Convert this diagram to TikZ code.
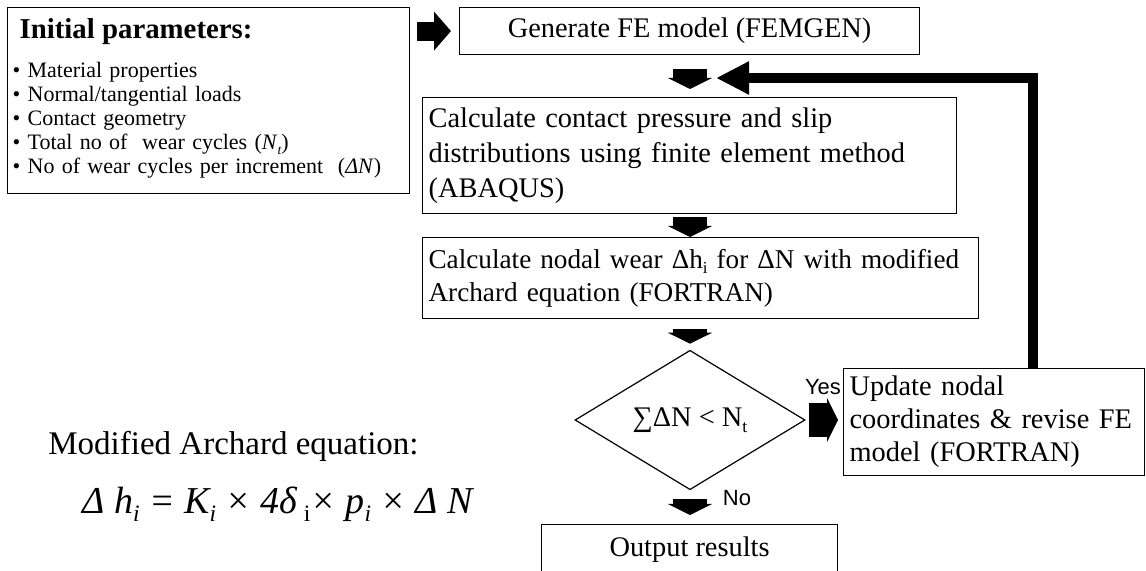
\documentclass[tikz,border=0pt]{standalone}
\usepackage{graphicx}
\usepackage{fontspec}
\setmainfont{Liberation Serif}
\newfontfamily\labelfont{Liberation Sans}
\usetikzlibrary{arrows.meta,shapes.geometric}

\newcommand{\lowsub}[1]{\raisebox{-0.45ex}{\scalebox{0.62}{#1}}}

\begin{document}
\begin{tikzpicture}[x=0.5pt, y=-0.5pt,
    flowbox/.style={draw, line width=0.6pt, inner xsep=3pt, inner ysep=2pt,
      font=\fontsize{14.2}{16.5}\selectfont},
    decision/.style={draw, diamond, line width=0.6pt, inner sep=0pt,
      font=\fontsize{14.2}{16.5}\selectfont},
    blockarrow/.style={line width=17pt, -{Triangle[length=5.5pt,width=22pt]}},
    sidearrow/.style={line width=9.5pt, -{Triangle[length=8.5pt,width=19pt]}},
    returnline/.style={line width=5pt, line join=miter, -{Triangle[length=16.5pt,width=15.5pt]}},
    answer/.style={font=\labelfont\fontsize{11}{13}\selectfont, inner sep=0pt}]
  \useasboundingbox (0,0) rectangle (1146,571);
  % ---------- input data ----------
  \node[draw, line width=0.6pt, anchor=north west, text width=196pt, inner xsep=2.5pt,
    inner ysep=5.5pt, align=left, font=\fontsize{11}{12}\selectfont] (init) at (7,7)
    {\hspace*{3.5pt}{\fontsize{14.4}{15}\selectfont\bfseries Initial parameters:}\\[7.5pt]
     • Material properties\\
     • Normal/tangential loads\\
     • Contact geometry\\
     • Total no of \ wear cycles (\textit{N}\lowsub{\itshape t})\\
     • No of wear cycles per increment \ (\textit{ΔN})\rule[-4.5pt]{0pt}{4.5pt}};
  % ---------- main column ----------
  \node[flowbox, anchor=north west, minimum width=230pt, minimum height=23.5pt] (gen) at (459,7)
    {Generate FE model (FEMGEN)};
  \node[flowbox, anchor=north west, text width=261pt, minimum height=58pt, align=left,
    font=\fontsize{14.2}{17.5}\selectfont] (calc) at (422,97)
    {Calculate contact pressure and slip\\ distributions using finite element method\\ (ABAQUS)};
  \node[flowbox, anchor=north west, text width=272pt, minimum height=40.5pt, align=left,
    font=\fontsize{13.6}{16.5}\selectfont] (wear) at (422,237)
    {\mbox{Calculate nodal wear Δh\lowsub{i} for ΔN with modified}\\ Archard equation (FORTRAN)};
  \node[decision, minimum width=115pt, minimum height=65pt] (test) at (690,420)
    {∑ΔN < N\lowsub{t}};
  \node[flowbox, anchor=north west, text width=144.5pt, minimum height=53.5pt, align=left] (upd) at (843,368)
    {Update nodal\\ coordinates \& revise FE\\ model (FORTRAN)};
  \node[flowbox, anchor=north west, minimum width=148pt, minimum height=25pt] (out) at (541,524)
    {Output results};
  % ---------- block arrows ----------
  \draw[sidearrow, shorten <=3.5pt, shorten >=4pt] (init.east |- gen.west) -- (gen.west);
  \draw[blockarrow, shorten <=7pt, shorten >=4pt] (test |- gen.south) -- (test |- calc.north);
  \draw[blockarrow, shorten <=1.5pt] (test |- calc.south) -- (test |- wear.north);
  \draw[blockarrow, shorten <=5pt, shorten >=3pt] (test |- wear.south) -- (test.north);
  \draw[blockarrow, shorten <=4.5pt, shorten >=4.5pt] (test.south) -- (test |- out.north);
  \draw[blockarrow, shorten <=1.5pt, shorten >=2.5pt] (test.east) -- (upd.west |- test.east);
  \node[answer] (yes) at (823,387) {Yes};
  \node[answer] (no) at (737,498) {No};
  % ---------- loop back to the FE analysis ----------
  \coordinate (back) at (1033,78);
  \coordinate (tip) at (716,78);
  \draw[returnline] (upd.north -| back) |- (tip);
  % ---------- wear law ----------
  \node[anchor=base west, inner sep=0pt, font=\fontsize{16.5}{18}\selectfont] (lawname) at (48,455)
    {Modified Archard equation:};
  \node[anchor=base west, inner sep=0pt, font=\fontsize{19}{21}\selectfont] (law) at (82,514)
    {\itshape Δ h\lowsub{i} = K\lowsub{i} × 4δ\,\lowsub{\upshape i}× p\lowsub{i} × Δ N};
\end{tikzpicture}
\end{document}
